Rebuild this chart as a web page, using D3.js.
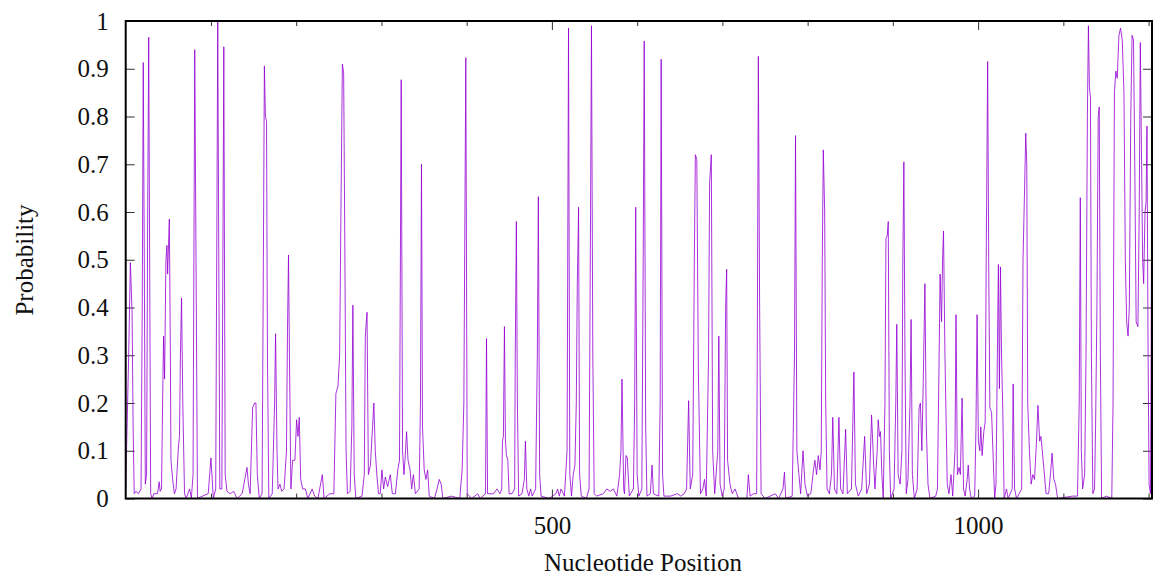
<!DOCTYPE html>
<html>
<head>
<meta charset="utf-8" />
<script src="https://cdn.jsdelivr.net/npm/d3@7"></script>
<title>Probability profile</title>
<style>
    body { margin: 0; background: #fff; }
    svg text { font-family: "Liberation Serif", "Times New Roman", serif; fill: #111; }
</style>
</head>
<body>
<script>
    // x ticks labelled, minor ticks every 100 nt
    var xTickValues = [500, 1000];
    var xMinorTicks = [100, 200, 300, 400, 600, 700, 800, 900, 1100, 1200];
    var yTickValues = [0, 0.1, 0.2, 0.3, 0.4, 0.5, 0.6, 0.7, 0.8, 0.9, 1];
    var xLabel = "Nucleotide Position",
        yLabel = "Probability";

    // [nucleotide position, probability]
    var profile = [
        [0,0.02],[3.5,0.3],[5.5,0.494],[7.5,0.39],[8.7,0.15],[10,0.01],[12,0.015],[15,0.01],[18,0.02],[19.4,0.4],
        [20.6,0.913],[21.8,0.5],[23,0.03],[24.5,0.05],[25.8,0.6],[27,0.966],[28.1,0.5],[29.3,0.01],[31,0],[33,0.01],
        [37.3,0.01],[39.3,0.035],[40.4,0.015],[42,0.02],[43.3,0.2],[44.4,0.34],[45.6,0.25],[47.2,0.5],[48.4,0.53],[49.2,0.47],
        [51.2,0.585],[52.4,0.3],[53.1,0.08],[55.1,0.04],[57.1,0.01],[59.1,0.02],[61.9,0.11],[63.1,0.13],[64.2,0.3],[65.5,0.42],
        [67,0.2],[69,0.01],[71,0],[75,0.02],[77,0],[79,0.05],[81,0.94],[82.5,0.5],[84.2,0],[90,0.005],
        [96.8,0.01],[100,0.085],[102.8,0],[105.6,0.02],[108,1.0],[110.4,0.02],[112.8,0.02],[115.1,0.946],[116.7,0.05],[118.8,0.015],
        [122.7,0.01],[126.7,0.015],[130.7,0],[136.6,0.01],[139.7,0.04],[142.3,0.065],[144,0.03],[146,0.01],[148.9,0.19],[151.2,0.2],
        [152.8,0.2],[154.4,0.05],[156.7,0],[160,0.01],[161.5,0.5],[162.7,0.906],[163.9,0.8],[165.2,0.79],[166.3,0.3],[167.9,0],
        [171.9,0.01],[174.7,0.2],[175.8,0.345],[177.5,0.1],[178.7,0.02],[181,0.03],[183,0.015],[185.8,0.02],[188.6,0.1],[189.8,0.35],
        [191,0.51],[192.1,0.3],[193.8,0.02],[195.8,0.08],[198.5,0.08],[200.5,0.165],[202.1,0.13],[203.6,0.17],[205.3,0.04],[207.6,0.02],
        [210.8,0.02],[213.6,0],[218.8,0.02],[221.6,0.005],[225.5,0],[230.7,0.05],[232.7,0],[239.4,0.01],[244.2,0.01],[246.6,0.22],
        [249,0.235],[251,0.3],[252.5,0.6],[254.2,0.91],[255.7,0.89],[257,0.55],[258.5,0.1],[260.1,0.01],[263.3,0.015],[265.3,0.15],
        [266.5,0.405],[268.1,0.05],[270,0],[277.2,0.005],[279.9,0.05],[281.1,0.34],[283.1,0.39],[284.7,0.05],[287.1,0.07],[289.6,0.15],
        [291.1,0.2],[292.8,0.1],[294.6,0.05],[296.6,0.01],[298.6,0.01],[300.6,0.06],[302.6,0.02],[304.6,0.045],[307.3,0.025],[310.4,0.05],
        [312.8,0.01],[316.4,0.01],[319.2,0.06],[321.2,0.08],[323.2,0.877],[324.8,0.1],[326.4,0.05],[328,0.09],[329.5,0.14],[331.2,0.08],
        [333.6,0.06],[335.5,0.02],[337.5,0.05],[339.9,0.01],[344.3,0.02],[345.8,0.2],[347,0.7],[348.2,0.15],[350.2,0.06],[352.2,0.04],
        [354.2,0.06],[356.1,0.005],[362.1,0],[365.3,0.02],[367.8,0.04],[370.1,0.03],[372.1,0],[382.1,0.005],[391.9,0],[394.7,0.06],
        [396.7,0.2],[399,0.923],[400.7,0.01],[405.8,0],[413,0.01],[415.8,0],[422.1,0.01],[423.3,0.335],[424.5,0.01],[431.6,0.01],
        [435.6,0.02],[439.1,0.01],[441.1,0.02],[442,0.12],[443.1,0.13],[444.3,0.36],[445.5,0.12],[446.7,0.09],[448.3,0.08],[449.8,0.01],
        [453.1,0.01],[456.3,0.02],[457,0.3],[458.3,0.58],[459.5,0.2],[461,0.005],[464.9,0.01],[467.7,0.04],[468.9,0.12],[470.6,0.02],
        [472.9,0.005],[474.9,0.02],[476.9,0.005],[480.9,0.02],[482.9,0.3],[484.1,0.632],[485.6,0.05],[487.3,0.005],[496.7,0],[504.7,0.01],
        [506.7,0.02],[508.7,0.005],[510.7,0.02],[514.7,0.005],[517.8,0.1],[519.5,0.985],[521,0.05],[523,0.005],[525,0.05],[527,0.07],
        [528.6,0.2],[529.8,0.45],[531.3,0.61],[532.5,0.05],[534.5,0.005],[540.4,0],[543.6,0.02],[545.2,0.55],[546.4,0.99],[548,0.3],
        [549.6,0.01],[552.4,0.005],[560.4,0.01],[564.4,0.02],[568.3,0.015],[572.2,0.02],[576.2,0.005],[579.4,0.05],[581,0.1],[582.2,0.25],
        [584.2,0.02],[585.2,0.01],[586.9,0.09],[588.5,0.085],[590.8,0.005],[595.6,0.02],[597.1,0.2],[598.3,0.61],[600,0.05],[602,0.005],
        [605.5,0.02],[607.1,0.5],[608.3,0.958],[610,0.15],[611.5,0.005],[615.5,0.01],[617.5,0.07],[619.1,0.01],[625.4,0.005],[627,0.2],
        [628.2,0.92],[629.8,0.05],[631.4,0.005],[639.3,0.005],[647.2,0.01],[651.2,0.005],[655.2,0.01],[658,0.02],[660.4,0.205],[662.3,0.02],
        [665.2,0.05],[667.1,0.5],[668.3,0.72],[670,0.71],[671.8,0.27],[674.3,0.01],[677.1,0.02],[679,0.04],[681,0.005],[683.8,0.3],
        [685,0.66],[687,0.72],[688.6,0.1],[691,0.01],[694.6,0.1],[695.8,0.34],[697.3,0.03],[699.8,0.005],[702.1,0.02],[703.8,0.4],
        [705,0.48],[706.1,0.08],[708.9,0.03],[711.6,0.01],[714.9,0.02],[718.8,0],[728.7,0],[730.5,0.05],[732.5,0.005],[736.2,0.01],
        [740.2,0.01],[740.9,0.3],[742.2,0.926],[743.7,0.4],[745.4,0.01],[750.1,0],[762,0.01],[766,0],[771.1,0.02],[772.8,0.055],
        [774.3,0],[781.9,0.005],[784.6,0.3],[785.8,0.76],[787.4,0.1],[789.8,0.05],[791.8,0.01],[794.6,0.1],[796.9,0.03],[799.8,0.005],
        [803.7,0.01],[806.9,0.06],[808.5,0.08],[810.5,0.05],[812.5,0.09],[814.5,0.06],[816,0.1],[817.2,0.5],[818.4,0.73],[820,0.6],
        [821.2,0.2],[822.8,0.02],[825.5,0.01],[828,0.05],[829.5,0.17],[831.5,0.02],[834.3,0.01],[836.7,0.17],[838.7,0.02],[841.5,0.01],
        [844.6,0.145],[846.6,0.01],[851.4,0.02],[854.3,0.265],[856.1,0.03],[859.4,0.005],[863.4,0.02],[866.9,0.13],[869.3,0.01],[872.5,0.03],
        [875,0.175],[877.5,0.07],[879,0.02],[881.6,0.1],[882.8,0.165],[884.3,0.13],[885.5,0.14],[887.1,0.05],[888.7,0],[890.7,0.2],
        [891.9,0.545],[893.4,0.55],[894.6,0.58],[895.9,0.1],[897.4,0],[901.4,0.02],[903.4,0.2],[904.6,0.365],[906.2,0.05],[908.6,0.03],
        [910.6,0.1],[911.7,0.5],[912.9,0.705],[914.2,0.3],[915.7,0.01],[917.7,0.04],[920.1,0.2],[921.4,0.375],[922.9,0.05],[925.2,0],
        [928.5,0.02],[930.8,0.19],[932.3,0.2],[934,0.1],[935.6,0.24],[937.6,0.45],[939.2,0.15],[941.2,0.03],[943.5,0],[950.3,0.005],
        [952.3,0.02],[954.3,0.3],[955.4,0.47],[957.1,0.37],[958.3,0.5],[959.4,0.56],[961.1,0.3],[962.3,0.18],[963.8,0.03],[965.8,0.01],
        [968.2,0.05],[970.2,0.005],[972.9,0.1],[974.1,0.385],[975.7,0.05],[977.7,0.065],[979.2,0.05],[981.2,0.21],[982.9,0.02],[984.8,0.005],
        [987.2,0.04],[988.4,0.07],[990,0.02],[992,0],[996,0.005],[997.5,0.15],[998.8,0.385],[1000.3,0.12],[1002,0.1],[1003.1,0.15],
        [1004.7,0.09],[1006.7,0.14],[1008.3,0.16],[1009.5,0.5],[1011.2,0.915],[1012.6,0.45],[1013.8,0.19],[1015.8,0.18],[1017.4,0.1],[1019.4,0],
        [1021,0.03],[1022.6,0.3],[1023.8,0.49],[1025,0.23],[1026.2,0.485],[1027.5,0.3],[1029,0.18],[1030.5,0],[1033.3,0.02],[1035.2,0],
        [1040,0.02],[1041.1,0.24],[1042.8,0.02],[1045.1,0],[1051.1,0.02],[1052.7,0.5],[1054.3,0.63],[1055.9,0.765],[1057.1,0.7],[1058.2,0.2],
        [1060.2,0.1],[1062.2,0.03],[1064.2,0.05],[1066.2,0.04],[1068.5,0.12],[1070.2,0.195],[1072.2,0.12],[1073.7,0.13],[1075.3,0.1],[1077.3,0.06],
        [1079.7,0.01],[1082.8,0.01],[1085.3,0.06],[1086.8,0.095],[1088.8,0.04],[1090.8,0.03],[1093.3,0],[1110.7,0.005],[1116.6,0.005],[1118.6,0.2],
        [1119.9,0.63],[1121.1,0.1],[1122.6,0.02],[1125,0.05],[1126.6,0.3],[1128.2,0.8],[1129.4,0.99],[1130.6,0.86],[1131.8,0.84],[1132.9,0.3],
        [1134.6,0.01],[1136.6,0.02],[1137.8,0.15],[1139.4,0.4],[1140.9,0.8],[1142.1,0.82],[1143.4,0.3],[1144.9,0],[1150.5,0.005],[1156.8,0],
        [1158.3,0.2],[1159.9,0.85],[1161.6,0.895],[1163.2,0.88],[1165.2,0.97],[1167.1,0.985],[1169.1,0.96],[1171.1,0.85],[1172.7,0.5],[1174.3,0.37],
        [1175.9,0.34],[1177.4,0.4],[1179.1,0.8],[1180.6,0.97],[1182.3,0.96],[1183.8,0.7],[1185.4,0.37],[1187.5,0.36],[1189,0.6],[1190.3,0.955],
        [1191.8,0.7],[1193,0.5],[1194.2,0.45],[1195.8,0.6],[1197,0.62],[1198.1,0.78],[1199.4,0.3],[1200.6,0.03],[1202.2,0.01],[1203,0.3],
        [1204,0.89]
    ];

    var svgWidth = 1153,
        svgHeight = 575,
        margin = {top: 21, right: 1, bottom: 76.5, left: 125.7},
        width = svgWidth - margin.left - margin.right,
        height = svgHeight - margin.top - margin.bottom;

    var svg = d3.select("body").append("svg")
        .attr("width", svgWidth)
        .attr("height", svgHeight);

    var g = svg.append("g")
        .attr("transform", "translate(" + margin.left + "," + margin.top + ")");

    var x = d3.scaleLinear().domain([0, 1204]).range([0, width]);
    var y = d3.scaleLinear().domain([0, 1]).range([height, 0]);

    g.append("clipPath").attr("id", "plotClip")
        .append("rect").attr("width", width).attr("height", height);

    // axes, ticks pointing inward like gnuplot
    var left = g.append("g")
        .call(d3.axisLeft(y).tickValues(yTickValues).tickSize(-9).tickPadding(17)
            .tickFormat(function(d) { return d === 0 || d === 1 ? d3.format("d")(d) : d3.format(".1f")(d); }));
    var right = g.append("g").attr("transform", "translate(" + width + ",0)")
        .call(d3.axisRight(y).tickValues(yTickValues).tickSize(-9).tickFormat(""));
    var bottom = g.append("g").attr("transform", "translate(0," + height + ")")
        .call(d3.axisBottom(x).tickValues(xTickValues).tickSize(-9).tickPadding(18).tickFormat(d3.format("d")));
    var top = g.append("g")
        .call(d3.axisTop(x).tickValues(xTickValues).tickSize(-9).tickFormat(""));
    g.append("g").attr("transform", "translate(0," + height + ")")
        .call(d3.axisBottom(x).tickValues(xMinorTicks).tickSize(-5).tickFormat(""));
    g.append("g")
        .call(d3.axisTop(x).tickValues(xMinorTicks).tickSize(-5).tickFormat(""));

    g.selectAll(".domain").remove();
    g.selectAll(".tick line").attr("stroke", "#333").attr("stroke-width", 1);
    g.selectAll(".tick text").attr("font-size", 25)
        .attr("font-family", "'Liberation Serif', serif").attr("fill", "#111");

    var line = d3.line()
        .x(function(d) { return x(d[0]); })
        .y(function(d) { return y(d[1]); });

    g.append("path")
        .datum(profile)
        .attr("clip-path", "url(#plotClip)")
        .attr("fill", "none")
        .attr("stroke", "#9400d3")
        .attr("stroke-width", 0.9)
        .attr("stroke-opacity", 0.9)
        .attr("stroke-linejoin", "round")
        .attr("d", line);

    // frame
    g.append("rect")
        .attr("width", width).attr("height", height)
        .attr("fill", "none").attr("stroke", "#000").attr("stroke-width", 2);

    svg.append("text")
        .attr("x", 643).attr("y", 571)
        .attr("text-anchor", "middle")
        .attr("font-size", 25)
        .text(xLabel);

    svg.append("text")
        .attr("transform", "translate(33,260) rotate(-90)")
        .attr("text-anchor", "middle")
        .attr("font-size", 25)
        .text(yLabel);
</script>
</body>
</html>
